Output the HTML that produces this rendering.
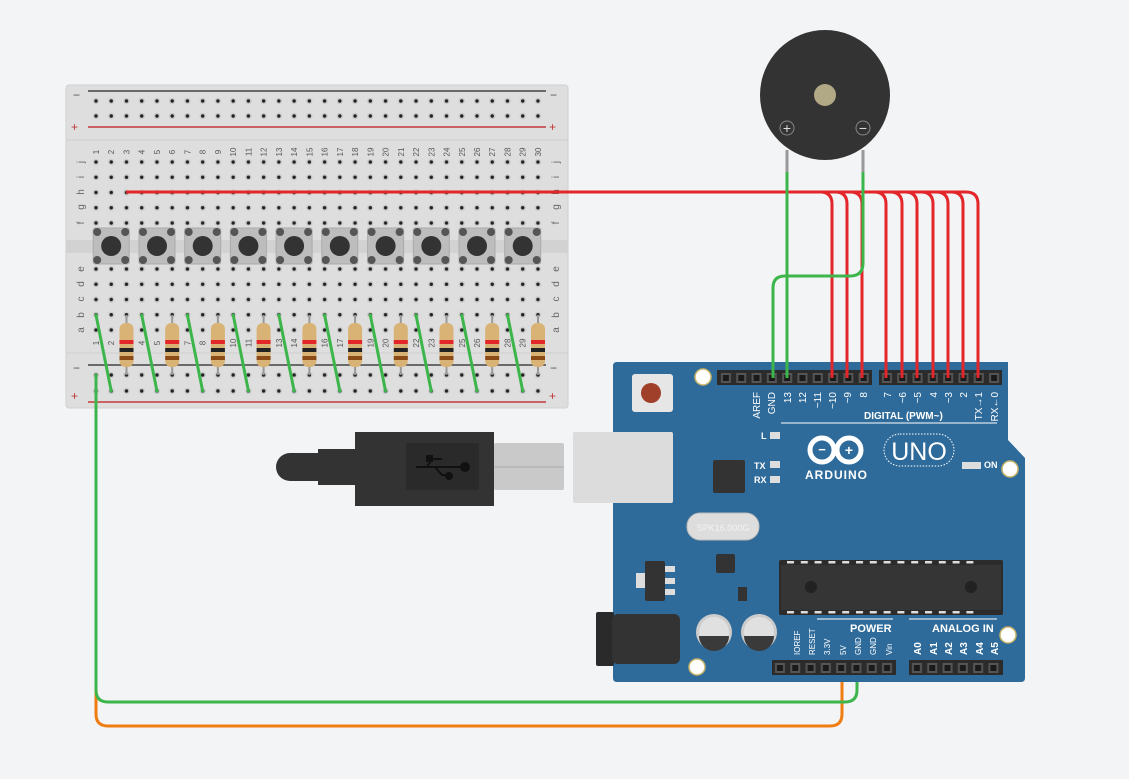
<!DOCTYPE html>
<html><head><meta charset="utf-8"><style>
html,body{margin:0;padding:0;background:#f3f4f6;}
svg{display:block;font-family:"Liberation Sans",sans-serif;}
</style></head><body>
<svg width="1129" height="779" viewBox="0 0 1129 779" xmlns="http://www.w3.org/2000/svg">
<defs>
<pattern id="h1" x="88.38" y="93.5" width="15.24" height="15" patternUnits="userSpaceOnUse"><circle cx="7.62" cy="7.5" r="3.2" fill="#cbcbcb"/><circle cx="7.62" cy="7.5" r="1.7" fill="#222"/></pattern>
<pattern id="h2" x="88.38" y="154.4" width="15.24" height="15.25" patternUnits="userSpaceOnUse"><circle cx="7.62" cy="7.62" r="3.2" fill="#cbcbcb"/><circle cx="7.62" cy="7.62" r="1.7" fill="#222"/></pattern>
<pattern id="h3" x="88.38" y="261.4" width="15.24" height="15.25" patternUnits="userSpaceOnUse"><circle cx="7.62" cy="7.62" r="3.2" fill="#cbcbcb"/><circle cx="7.62" cy="7.62" r="1.7" fill="#222"/></pattern>
<pattern id="h4" x="88.38" y="367" width="15.24" height="16" patternUnits="userSpaceOnUse"><circle cx="7.62" cy="8" r="3.2" fill="#cbcbcb"/><circle cx="7.62" cy="8" r="1.7" fill="#222"/></pattern>
<pattern id="pn" x="718.35" y="370" width="15.3" height="16" patternUnits="userSpaceOnUse"><rect x="2.6" y="3" width="10" height="10" fill="#555"/><rect x="4.6" y="5" width="6" height="6" fill="#1a1a1a"/></pattern>
<pattern id="pn2" x="879.35" y="370" width="15.3" height="16" patternUnits="userSpaceOnUse"><rect x="2.6" y="3" width="10" height="10" fill="#555"/><rect x="4.6" y="5" width="6" height="6" fill="#1a1a1a"/></pattern>
<pattern id="pn3" x="772.35" y="660" width="15.3" height="16" patternUnits="userSpaceOnUse"><rect x="2.6" y="3" width="10" height="10" fill="#555"/><rect x="4.6" y="5" width="6" height="6" fill="#1a1a1a"/></pattern>
<pattern id="pn4" x="909.35" y="660" width="15.3" height="16" patternUnits="userSpaceOnUse"><rect x="2.6" y="3" width="10" height="10" fill="#555"/><rect x="4.6" y="5" width="6" height="6" fill="#1a1a1a"/></pattern>
<pattern id="icp" x="787" y="560" width="13.8" height="55" patternUnits="userSpaceOnUse"><rect x="0" y="1" width="7" height="2.5" fill="#ddd"/><rect x="0" y="51" width="7" height="2.5" fill="#ddd"/></pattern>
<g id="btn"><rect x="-18" y="228" width="36" height="36" rx="2" fill="#bdbdbd" stroke="#aaa"/><circle cx="-14" cy="232" r="4" fill="#555"/><circle cx="14" cy="232" r="4" fill="#555"/><circle cx="-14" cy="260" r="4" fill="#555"/><circle cx="14" cy="260" r="4" fill="#555"/><circle cx="0" cy="246" r="10" fill="#333"/></g>
<g id="res"><line x1="0" y1="315" x2="0" y2="375" stroke="#999" stroke-width="2"/><rect x="-7" y="323" width="14" height="44" rx="6" fill="#d9b375"/><rect x="-7" y="340" width="14" height="4" fill="#e3262a"/><rect x="-7" y="348" width="14" height="4" fill="#222"/><rect x="-7" y="356" width="14" height="4" fill="#8a4b16"/></g>
<line id="gw" x1="0" y1="315" x2="15.24" y2="391" stroke="#3cb54a" stroke-width="3" stroke-linecap="round"/>
</defs>
<rect width="1129" height="779" fill="#f3f4f6"/>
<!-- breadboard -->
<rect x="66" y="85" width="502" height="323" rx="3" fill="#dedede" stroke="#d0d0d0"/>
<line x1="66" y1="140" x2="568" y2="140" stroke="#cfcfcf"/>
<line x1="66" y1="353" x2="568" y2="353" stroke="#cfcfcf"/>
<rect x="66" y="240" width="502" height="13" fill="#d2d2d2"/>
<line x1="88" y1="91" x2="546" y2="91" stroke="#444" stroke-width="1.5"/>
<line x1="88" y1="127" x2="546" y2="127" stroke="#c0393b" stroke-width="1.5"/>
<line x1="88" y1="365" x2="546" y2="365" stroke="#444" stroke-width="1.5"/>
<line x1="88" y1="402" x2="546" y2="402" stroke="#c0393b" stroke-width="1.5"/>
<g font-size="12" fill="#555"><text x="73" y="99">−</text><text x="550" y="99">−</text><text x="71" y="131" fill="#c0393b">+</text><text x="549" y="131" fill="#c0393b">+</text>
<text x="73" y="372">−</text><text x="550" y="372">−</text><text x="71" y="400" fill="#c0393b">+</text><text x="549" y="400" fill="#c0393b">+</text></g>
<rect x="88.38" y="93.5" width="457.2" height="30" fill="url(#h1)"/>
<rect x="88.38" y="154.4" width="457.2" height="76.25" fill="url(#h2)"/>
<rect x="88.38" y="261.4" width="457.2" height="76.25" fill="url(#h3)"/>
<rect x="88.38" y="367" width="457.2" height="32" fill="url(#h4)"/>
<g font-size="8" fill="#555" text-anchor="middle">
<text transform="translate(99,152) rotate(-90)">1</text><text transform="translate(114.2,152) rotate(-90)">2</text><text transform="translate(129.5,152) rotate(-90)">3</text><text transform="translate(144.7,152) rotate(-90)">4</text><text transform="translate(160,152) rotate(-90)">5</text><text transform="translate(175.2,152) rotate(-90)">6</text><text transform="translate(190.4,152) rotate(-90)">7</text><text transform="translate(205.7,152) rotate(-90)">8</text><text transform="translate(220.9,152) rotate(-90)">9</text><text transform="translate(236.2,152) rotate(-90)">10</text><text transform="translate(251.4,152) rotate(-90)">11</text><text transform="translate(266.6,152) rotate(-90)">12</text><text transform="translate(281.9,152) rotate(-90)">13</text><text transform="translate(297.1,152) rotate(-90)">14</text><text transform="translate(312.4,152) rotate(-90)">15</text><text transform="translate(327.6,152) rotate(-90)">16</text><text transform="translate(342.8,152) rotate(-90)">17</text><text transform="translate(358.1,152) rotate(-90)">18</text><text transform="translate(373.3,152) rotate(-90)">19</text><text transform="translate(388.6,152) rotate(-90)">20</text><text transform="translate(403.8,152) rotate(-90)">21</text><text transform="translate(419,152) rotate(-90)">22</text><text transform="translate(434.3,152) rotate(-90)">23</text><text transform="translate(449.5,152) rotate(-90)">24</text><text transform="translate(464.8,152) rotate(-90)">25</text><text transform="translate(480,152) rotate(-90)">26</text><text transform="translate(495.2,152) rotate(-90)">27</text><text transform="translate(510.5,152) rotate(-90)">28</text><text transform="translate(525.7,152) rotate(-90)">29</text><text transform="translate(541,152) rotate(-90)">30</text>
<text transform="translate(99,343) rotate(-90)">1</text><text transform="translate(114.2,343) rotate(-90)">2</text><text transform="translate(144.7,343) rotate(-90)">4</text><text transform="translate(160,343) rotate(-90)">5</text><text transform="translate(190.4,343) rotate(-90)">7</text><text transform="translate(205.7,343) rotate(-90)">8</text><text transform="translate(236.2,343) rotate(-90)">10</text><text transform="translate(251.4,343) rotate(-90)">11</text><text transform="translate(281.9,343) rotate(-90)">13</text><text transform="translate(297.1,343) rotate(-90)">14</text><text transform="translate(327.6,343) rotate(-90)">16</text><text transform="translate(342.8,343) rotate(-90)">17</text><text transform="translate(373.3,343) rotate(-90)">19</text><text transform="translate(388.6,343) rotate(-90)">20</text><text transform="translate(419,343) rotate(-90)">22</text><text transform="translate(434.3,343) rotate(-90)">23</text><text transform="translate(464.8,343) rotate(-90)">25</text><text transform="translate(480,343) rotate(-90)">26</text><text transform="translate(510.5,343) rotate(-90)">28</text><text transform="translate(525.7,343) rotate(-90)">29</text>
</g>
<g font-size="10" fill="#666" text-anchor="middle">
<text transform="translate(84,162) rotate(-90)">j</text><text transform="translate(84,177) rotate(-90)">i</text><text transform="translate(84,192) rotate(-90)">h</text><text transform="translate(84,207) rotate(-90)">g</text><text transform="translate(84,223) rotate(-90)">f</text><text transform="translate(84,269) rotate(-90)">e</text><text transform="translate(84,284) rotate(-90)">d</text><text transform="translate(84,299) rotate(-90)">c</text><text transform="translate(84,315) rotate(-90)">b</text><text transform="translate(84,330) rotate(-90)">a</text>
<text transform="translate(559,162) rotate(-90)">j</text><text transform="translate(559,177) rotate(-90)">i</text><text transform="translate(559,192) rotate(-90)">h</text><text transform="translate(559,207) rotate(-90)">g</text><text transform="translate(559,223) rotate(-90)">f</text><text transform="translate(559,269) rotate(-90)">e</text><text transform="translate(559,284) rotate(-90)">d</text><text transform="translate(559,299) rotate(-90)">c</text><text transform="translate(559,315) rotate(-90)">b</text><text transform="translate(559,330) rotate(-90)">a</text>
</g>
<use href="#btn" x="111.2"/><use href="#btn" x="157"/><use href="#btn" x="202.7"/><use href="#btn" x="248.4"/><use href="#btn" x="294.1"/><use href="#btn" x="339.8"/><use href="#btn" x="385.6"/><use href="#btn" x="431.3"/><use href="#btn" x="477"/><use href="#btn" x="522.7"/>
<use href="#res" x="126.5"/><use href="#res" x="172.2"/><use href="#res" x="217.9"/><use href="#res" x="263.6"/><use href="#res" x="309.4"/><use href="#res" x="355.1"/><use href="#res" x="400.8"/><use href="#res" x="446.5"/><use href="#res" x="492.2"/><use href="#res" x="538"/>
<use href="#gw" x="96"/><use href="#gw" x="141.7"/><use href="#gw" x="187.4"/><use href="#gw" x="233.2"/><use href="#gw" x="278.9"/><use href="#gw" x="324.6"/><use href="#gw" x="370.3"/><use href="#gw" x="416"/><use href="#gw" x="461.8"/><use href="#gw" x="507.5"/>
<!-- wires breadboard to arduino -->
<g fill="none" stroke-width="3" stroke-linecap="round">
<path d="M96,391 V714 Q96,726 108,726 H830 Q842,726 842,714 V668" stroke="#f07d12"/>
<path d="M96,375 V690 Q96,702 108,702 H845 Q857,702 857,690 V668" stroke="#3cb54a"/>
</g>
<!-- buzzer -->
<line x1="787" y1="150" x2="787" y2="172" stroke="#999" stroke-width="3"/>
<line x1="863" y1="150" x2="863" y2="172" stroke="#999" stroke-width="3"/>
<circle cx="825" cy="95" r="65" fill="#333"/>
<circle cx="825" cy="95" r="11" fill="#b1a985"/>
<circle cx="787" cy="128" r="7" fill="none" stroke="#888"/><text x="787" y="133" fill="#ddd" font-size="14" text-anchor="middle">+</text>
<circle cx="863" cy="128" r="7" fill="none" stroke="#888"/><text x="863" y="133" fill="#ddd" font-size="14" text-anchor="middle">−</text>
<!-- arduino -->
<path d="M617,362 H1008 V440 L1025,458 V678 Q1025,682 1021,682 H617 Q613,682 613,678 V366 Q613,362 617,362 Z" fill="#2f6b9a"/>
<rect x="717" y="370" width="155" height="15" fill="#2b2b2b"/>
<rect x="879" y="370" width="123" height="15" fill="#2b2b2b"/>
<rect x="772" y="660" width="124" height="15" fill="#2b2b2b"/>
<rect x="909" y="660" width="94" height="15" fill="#2b2b2b"/>
<rect x="718.35" y="370" width="153" height="16" fill="url(#pn)"/>
<rect x="879.35" y="370" width="122.4" height="16" fill="url(#pn2)"/>
<rect x="772.35" y="660" width="122.4" height="16" fill="url(#pn3)"/>
<rect x="909.35" y="660" width="91.8" height="16" fill="url(#pn4)"/>
<rect x="632" y="374" width="41" height="38" rx="3" fill="#e6e6e6"/>
<circle cx="651" cy="393" r="10" fill="#a0402a"/>
<g fill="#fff" stroke="#c9b56b" stroke-width="1.5">
<circle cx="703" cy="377" r="8"/><circle cx="1010" cy="469" r="8"/><circle cx="1008" cy="635" r="8"/><circle cx="697" cy="667" r="8"/></g>
<g fill="#fff" font-size="10" font-weight="bold">
<text x="864" y="419">DIGITAL (PWM~)</text>
<text x="850" y="632" font-size="11">POWER</text>
<text x="932" y="632" font-size="11">ANALOG IN</text>
<text x="761" y="439" font-size="9">L</text><text x="754" y="469" font-size="9">TX</text><text x="754" y="483" font-size="9">RX</text>
<text x="984" y="468" font-size="9">ON</text>
<text x="805" y="479" font-size="12" letter-spacing="1">ARDUINO</text>
</g>
<line x1="781" y1="423" x2="997" y2="423" stroke="#fff" stroke-width="1"/>
<line x1="817" y1="619" x2="893" y2="619" stroke="#fff"/><line x1="909" y1="619" x2="997" y2="619" stroke="#fff"/>
<g fill="#ddd"><rect x="770" y="432" width="10" height="7"/><rect x="770" y="461" width="10" height="7"/><rect x="770" y="476" width="10" height="7"/><rect x="962" y="462" width="19" height="7"/></g>
<g fill="none" stroke="#fff" stroke-width="5"><circle cx="822" cy="450" r="12"/><circle cx="849" cy="450" r="12"/></g>
<text x="822" y="454" fill="#fff" font-size="13" font-weight="bold" text-anchor="middle">−</text>
<text x="849" y="455" fill="#fff" font-size="14" font-weight="bold" text-anchor="middle">+</text>
<rect x="884" y="434" width="70" height="32" rx="16" fill="none" stroke="#fff" stroke-dasharray="1.5 1.5"/>
<text x="919" y="460" fill="#fff" font-size="25" text-anchor="middle">UNO</text>
<rect x="713" y="460" width="32" height="33" rx="2" fill="#333"/>
<rect x="687" y="513" width="72" height="27" rx="13" fill="#ddd" stroke="#bbb"/>
<text x="723" y="531" fill="#f2f2f2" font-size="9" text-anchor="middle">SPK16.000G</text>
<rect x="716" y="554" width="19" height="19" rx="2" fill="#333"/>
<rect x="645" y="561" width="20" height="40" rx="2" fill="#333"/>
<rect x="636" y="573" width="9" height="15" fill="#ddd"/>
<g fill="#ddd"><rect x="665" y="566" width="10" height="6"/><rect x="665" y="578" width="10" height="6"/><rect x="665" y="589" width="10" height="6"/></g>
<rect x="738" y="587" width="9" height="14" fill="#333"/>
<rect x="779" y="560" width="224" height="55" rx="2" fill="#2b2b2b"/>
<rect x="781" y="565" width="220" height="45" fill="#353535"/>
<rect x="787" y="560" width="193" height="55" fill="url(#icp)"/>
<circle cx="811" cy="587" r="6" fill="#222"/><circle cx="971" cy="587" r="6" fill="#222"/>
<rect x="596" y="612" width="18" height="54" rx="2" fill="#2a2a2a"/>
<rect x="612" y="614" width="68" height="50" rx="6" fill="#333"/>
<circle cx="714" cy="632" r="18" fill="#ccc"/><circle cx="714" cy="632" r="15" fill="#e0e0e0"/><path d="M699,636 H729 A15,15 0 0 1 699,636Z" fill="#3a3a3a"/>
<circle cx="759" cy="632" r="18" fill="#ccc"/><circle cx="759" cy="632" r="15" fill="#e0e0e0"/><path d="M744,636 H774 A15,15 0 0 1 744,636Z" fill="#3a3a3a"/>
<!-- USB -->
<rect x="573" y="432" width="100" height="71" rx="2" fill="#dcdcdc"/>
<rect x="494" y="443" width="70" height="47" rx="2" fill="#c9c9c9"/>
<line x1="494" y1="467" x2="564" y2="467" stroke="#aaa"/>
<path d="M290,453 H318 V449 H355 V432 H494 V506 H355 V485 H318 V481 H290 A14,14 0 0 1 290,453Z" fill="#333"/>
<rect x="406" y="443" width="73" height="47" fill="#2a2a2a"/>
<g stroke="#111" stroke-width="2" fill="#111"><line x1="416" y1="467" x2="466" y2="467"/><circle cx="465" cy="467" r="4"/><polyline points="427,467 432,459 442,459" fill="none"/><polyline points="435,467 442,475 448,475" fill="none"/><circle cx="449" cy="476" r="3"/><rect x="427" y="456" width="5" height="5"/></g>
<!-- red wires -->
<g fill="none" stroke="#e3262a" stroke-width="3">
<path d="M126,192 H820 Q832,192 832,204 V378"/>
<path d="M126,192 H835 Q847,192 847,204 V378"/>
<path d="M126,192 H850 Q862,192 862,204 V378"/>
<path d="M126,192 H874 Q886,192 886,204 V378"/>
<path d="M126,192 H890 Q902,192 902,204 V378"/>
<path d="M126,192 H905 Q917,192 917,204 V378"/>
<path d="M126,192 H921 Q933,192 933,204 V378"/>
<path d="M126,192 H936 Q948,192 948,204 V378"/>
<path d="M126,192 H951 Q963,192 963,204 V378"/>
<path d="M126,192 H966 Q978,192 978,204 V378"/>
</g>
<g fill="none" stroke="#3cb54a" stroke-width="3">
<path d="M787,172 V378"/>
<path d="M863,172 V263 Q863,276 850,276 H785 Q773,276 773,288 V378"/>
</g>
<g fill="#fff" font-size="10" text-anchor="end">
<text transform="translate(760,392) rotate(-90)">AREF</text><text transform="translate(775,392) rotate(-90)">GND</text><text transform="translate(791,392) rotate(-90)">13</text><text transform="translate(806,392) rotate(-90)">12</text><text transform="translate(821,392) rotate(-90)">~11</text><text transform="translate(836,392) rotate(-90)">~10</text><text transform="translate(851,392) rotate(-90)">~9</text><text transform="translate(867,392) rotate(-90)">8</text><text transform="translate(891,392) rotate(-90)">7</text><text transform="translate(906,392) rotate(-90)">~6</text><text transform="translate(921,392) rotate(-90)">~5</text><text transform="translate(937,392) rotate(-90)">4</text><text transform="translate(952,392) rotate(-90)">~3</text><text transform="translate(967,392) rotate(-90)">2</text><text transform="translate(982,392) rotate(-90)">TX→1</text><text transform="translate(998,392) rotate(-90)">RX←0</text>
</g>
<g fill="#fff" font-size="8">
<text transform="translate(800,655) rotate(-90)">IOREF</text><text transform="translate(815,655) rotate(-90)">RESET</text><text transform="translate(830,655) rotate(-90)">3.3V</text><text transform="translate(846,655) rotate(-90)">5V</text><text transform="translate(861,655) rotate(-90)">GND</text><text transform="translate(876,655) rotate(-90)">GND</text><text transform="translate(892,655) rotate(-90)">Vin</text>
<g font-size="10" font-weight="bold"><text transform="translate(921,655) rotate(-90)">A0</text><text transform="translate(937,655) rotate(-90)">A1</text><text transform="translate(952,655) rotate(-90)">A2</text><text transform="translate(967,655) rotate(-90)">A3</text><text transform="translate(983,655) rotate(-90)">A4</text><text transform="translate(998,655) rotate(-90)">A5</text></g>
</g>
</svg>
</body></html>
